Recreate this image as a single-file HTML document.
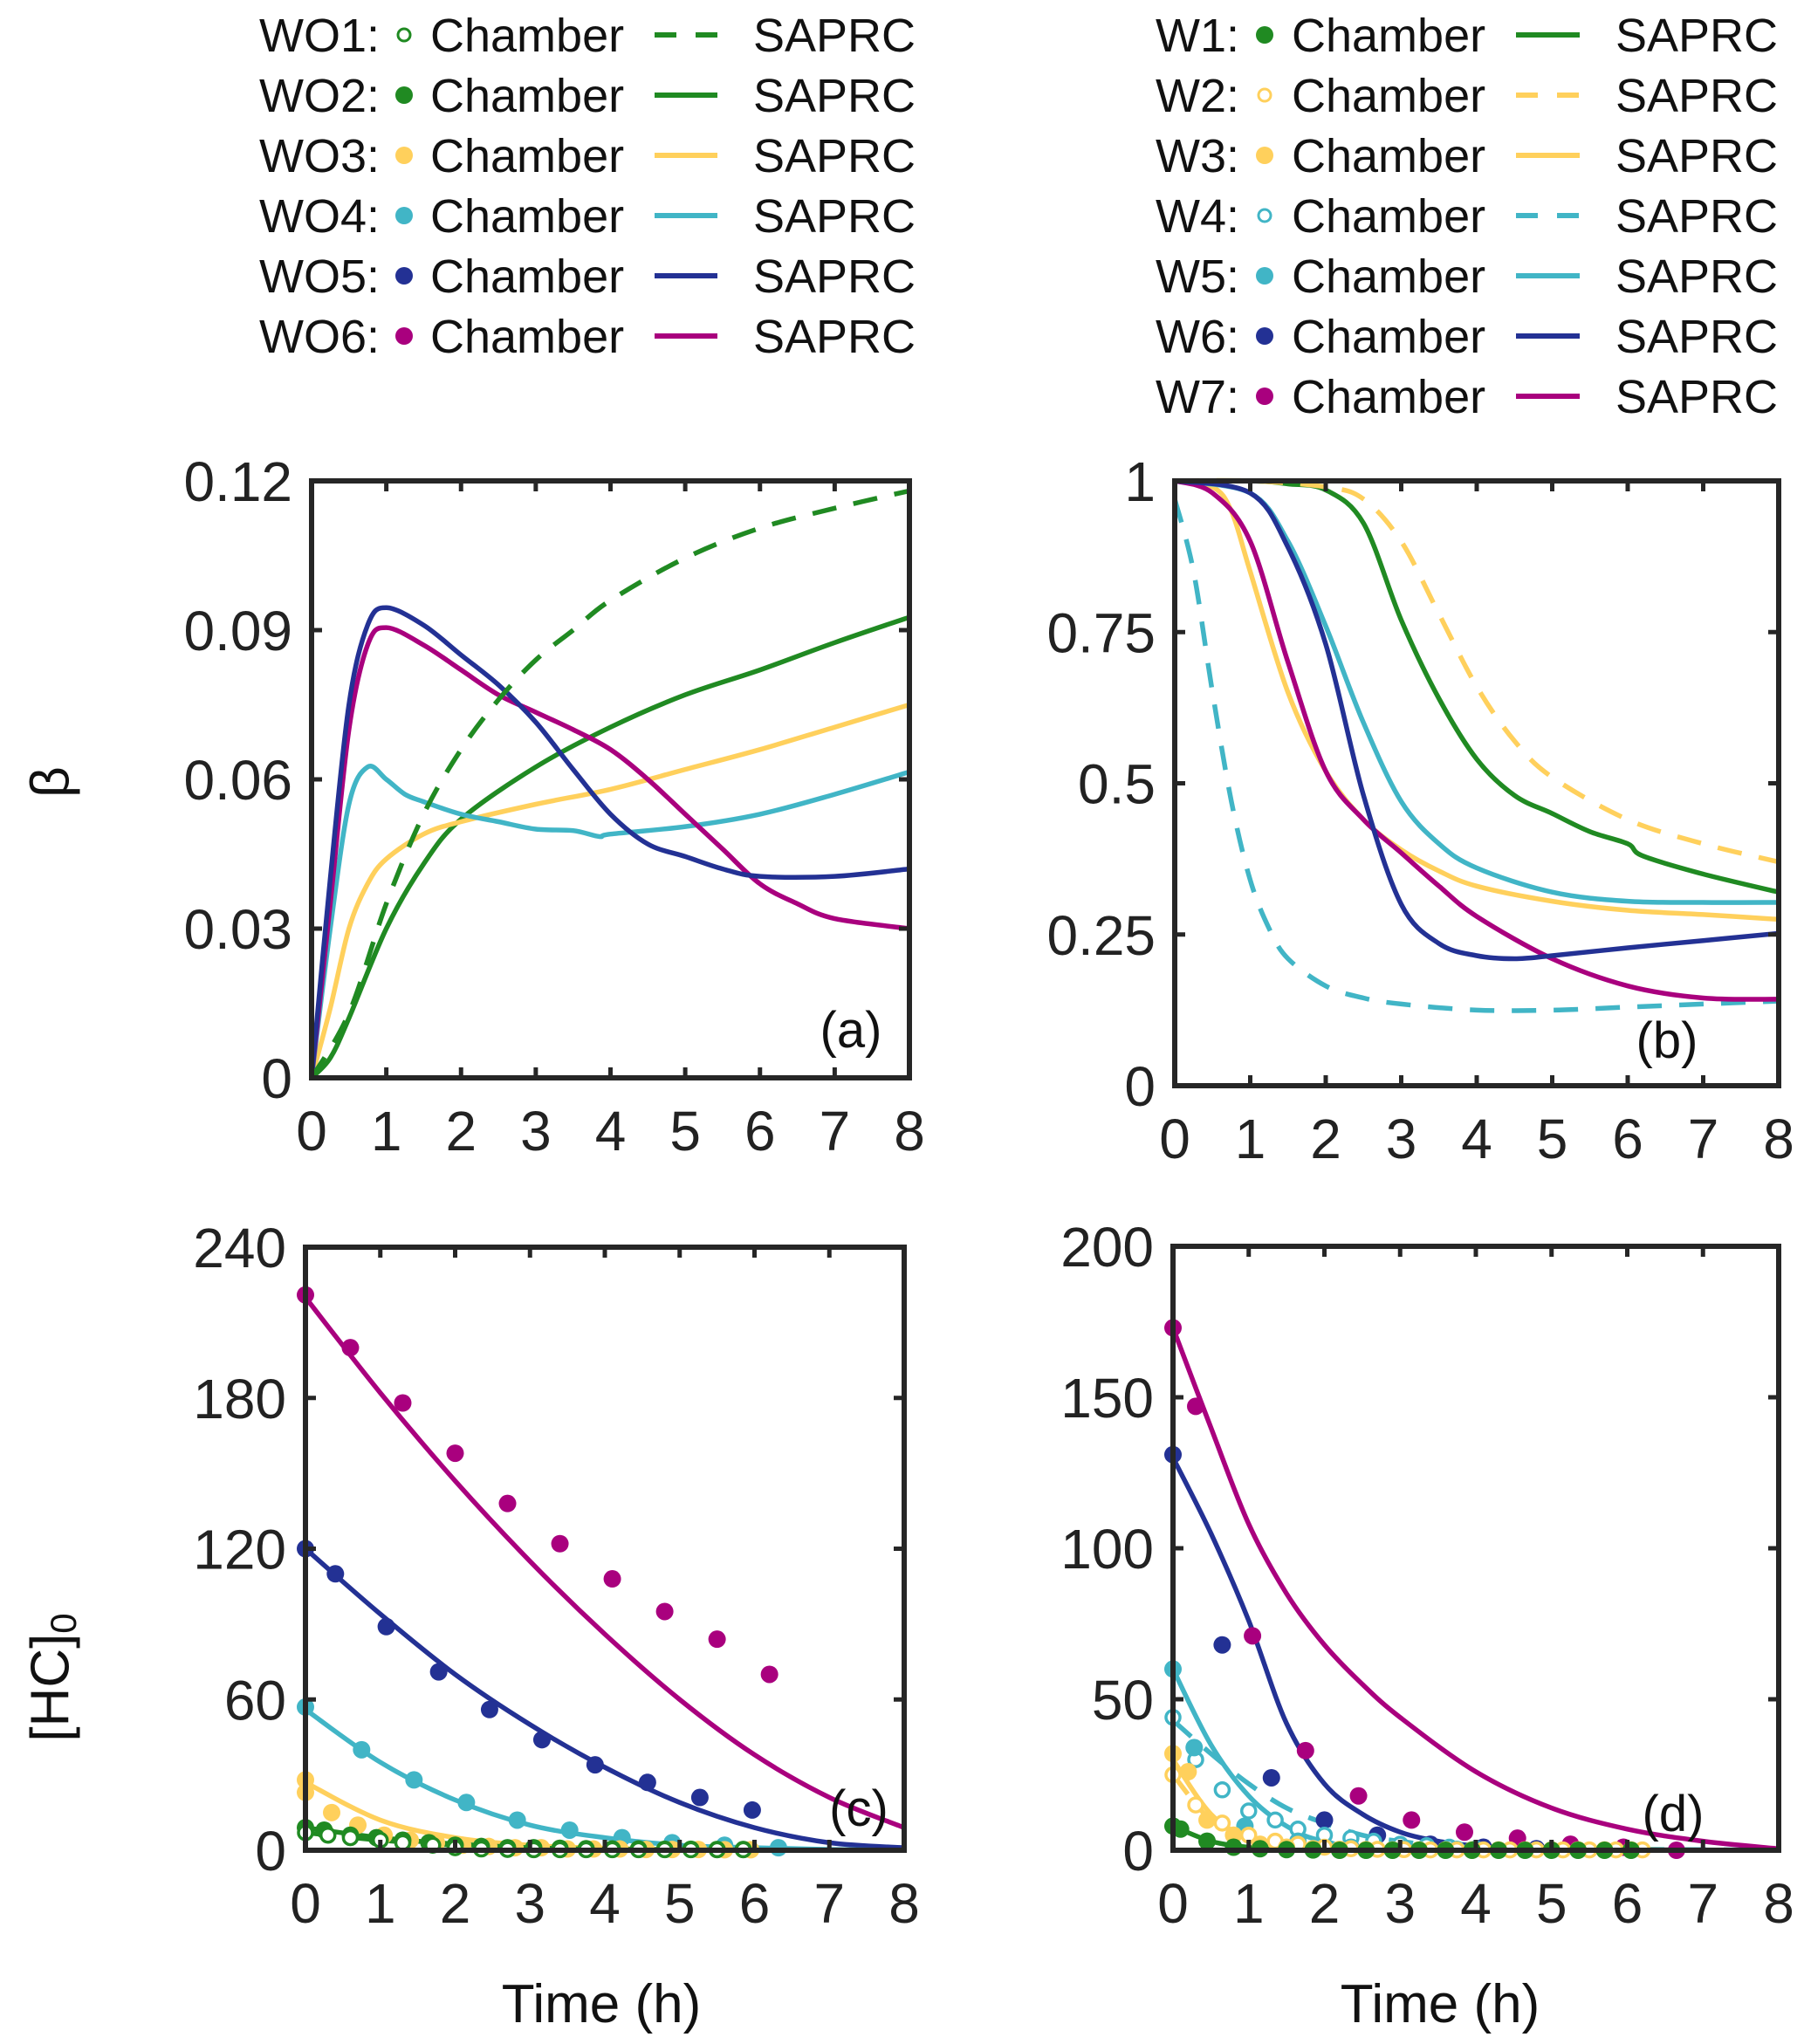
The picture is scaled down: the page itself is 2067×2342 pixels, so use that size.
<!DOCTYPE html>
<html><head><meta charset="utf-8">
<style>
html,body{margin:0;padding:0;background:#fff;}
svg{display:block;font-family:"Liberation Sans",Arial,sans-serif;}
</style></head>
<body>
<svg id="fig" width="2067" height="2342" viewBox="0 0 2067 2342" xmlns="http://www.w3.org/2000/svg">
<g id="legendL"></g>
<g id="legendR"></g>
<g id="plots"></g>
<text x="62" y="896" font-size="62" text-anchor="middle" dominant-baseline="middle" transform="rotate(-90 62 896)" fill="#111">β</text>
<text x="62" y="1922" font-size="62" text-anchor="middle" dominant-baseline="middle" transform="rotate(-90 62 1922)" fill="#111">[HC]<tspan font-size="42" dy="14">0</tspan></text>
<text x="689" y="2317" font-size="62" text-anchor="middle" fill="#111">Time (h)</text>
<text x="1650" y="2317" font-size="62" text-anchor="middle" fill="#111">Time (h)</text>
</svg>
<script>
const GREEN='#208a22', YEL='#ffd05c', CYAN='#41b5c6', NAVY='#233194', MAG='#a9007e';
const xTicks=[0,1,2,3,4,5,6,7,8];
const xTickLabels=['0','1','2','3','4','5','6','7','8'];
// Panel a
const aYTicks=[0,0.03,0.06,0.09,0.12];
const aYLabels=['0','0.03','0.06','0.09','0.12'];
const aT_WO1=[0,0.5,1,1.5,2,2.5,3,3.5,4,5,6,7,8];
const aV_WO1=[0,0.013,0.035,0.053,0.066,0.076,0.084,0.090,0.096,0.1045,0.1105,0.1145,0.118];
const aT_WO2=[0,0.25,0.5,1,1.5,2,3,4,5,6,7,8];
const aV_WO2=[0,0.004,0.012,0.030,0.043,0.052,0.0625,0.0705,0.077,0.082,0.0875,0.0926];
const aT_WO3=[0,0.25,0.5,0.75,1,1.5,2,3,4,5,6,7,8];
const aV_WO3=[0,0.014,0.030,0.039,0.044,0.049,0.0515,0.055,0.058,0.062,0.066,0.0705,0.075];
const aT_WO4=[0,0.25,0.5,0.75,1,1.25,1.5,2,2.5,3,3.5,3.85,4,5,6,7,8];
const aV_WO4=[0,0.03,0.055,0.0625,0.060,0.057,0.0555,0.053,0.0515,0.050,0.0497,0.0485,0.049,0.0505,0.053,0.057,0.0615];
const aT_WO5=[0,0.25,0.5,0.75,1,1.5,2,2.5,3,3.5,4,4.5,5,5.5,6,7,8];
const aV_WO5=[0,0.04,0.075,0.091,0.0945,0.091,0.085,0.079,0.0715,0.062,0.053,0.047,0.0445,0.042,0.0405,0.0405,0.042];
const aT_WO6=[0,0.25,0.5,0.75,1,1.5,2,2.5,3,3.5,4,4.5,5,5.5,6,6.5,7,8];
const aV_WO6=[0,0.035,0.07,0.087,0.0905,0.087,0.082,0.077,0.0735,0.070,0.066,0.060,0.053,0.046,0.039,0.035,0.032,0.030];
// Panel b
const bYTicks=[0,0.25,0.5,0.75,1];
const bYLabels=['0','0.25','0.5','0.75','1'];
const bT_W1=[0,1,1.5,2,2.5,3,3.5,4,4.5,5,5.5,6,6.2,7,8];
const bV_W1=[1,1,0.995,0.985,0.93,0.77,0.64,0.54,0.48,0.45,0.42,0.40,0.38,0.35,0.32];
const bT_W2=[0,1,2,2.5,3,3.5,4,4.5,5,6,7,8];
const bV_W2=[1,1,0.99,0.97,0.9,0.78,0.66,0.57,0.51,0.44,0.40,0.37];
const bT_W3=[0,0.5,0.75,1,1.5,2,2.5,3,3.5,4,5,6,7,8];
const bV_W3=[1,0.99,0.95,0.85,0.65,0.52,0.44,0.39,0.355,0.33,0.305,0.29,0.283,0.275];
const bT_W4=[0,0.25,0.5,0.75,1,1.25,1.5,2,2.5,3,4,5,6,7,8];
const bV_W4=[0.97,0.85,0.65,0.47,0.34,0.26,0.21,0.165,0.145,0.135,0.125,0.125,0.13,0.135,0.14];
const bT_W5=[0,1,1.5,2,2.5,3,3.5,4,5,6,7,8];
const bV_W5=[1,0.98,0.9,0.76,0.6,0.47,0.4,0.36,0.32,0.305,0.303,0.303];
const bT_W6=[0,1,1.5,2,2.5,3,3.5,4,4.5,5,6,7,8];
const bV_W6=[1,0.98,0.89,0.73,0.48,0.3,0.235,0.215,0.21,0.215,0.228,0.24,0.252];
const bT_W7=[0,0.5,1,1.5,2,2.5,3,3.5,4,5,6,7,8];
const bV_W7=[1,0.98,0.9,0.7,0.52,0.44,0.385,0.33,0.28,0.21,0.165,0.145,0.143];
// Panel c
const cYTicks=[0,60,120,180,240];
const cYLabels=['0','60','120','180','240'];
const cLineT=[0,1,2,3,4,5,6,7,8];
const cLine_WO6=[220,182,147,115,86,60,38,21,9];
const cLine_WO5=[120,94,70,50,33,19,9,3,1];
const cLine_WO4=[56,35,20,10,5,2,1,0.3,0];
const cLine_WO3=[27,12,5,2,0.8,0.3,0.1,0,0];
const cLine_WO2=[9,5,2.5,1,0.4,0.2,0.1,0,0];
const cLine_WO1=[7,4,2,0.8,0.3,0.1,0,0,0];
const cPtT_WO6=[0,0.6,1.3,2,2.7,3.4,4.1,4.8,5.5,6.2];
const cPtV_WO6=[221,200,178,158,138,122,108,95,84,70];
const cPtT_WO5=[0,0.4,1.08,1.78,2.46,3.16,3.87,4.57,5.27,5.97];
const cPtV_WO5=[120,110,89,71,56,44,34,27,21,16];
const cPtT_WO4=[0,0.75,1.45,2.15,2.83,3.53,4.23,4.9,5.6,6.32];
const cPtV_WO4=[57,40,28,19,12,8,5,3,2,1];
const cPtT_WO3=[0,0,0.35,0.7,1.05,1.4,1.75,2.1,2.45,2.8,3.15,3.5,3.85,4.2,4.55,4.9,5.25,5.6,5.95];
const cPtV_WO3=[28,23,15,10,6,4,3,2,1.5,1,1,0.5,0.5,0.5,0.3,0.3,0.3,0.2,0.2];
const cPtT_WO2=[0,0.25,0.6,0.95,1.3,1.65,2.0,2.35,2.7,3.05,3.4,3.75,4.1,4.45,4.8,5.15,5.5,5.85];
const cPtV_WO2=[9,8,6,5,4,3,2,1.5,1,1,0.8,0.6,0.5,0.5,0.4,0.4,0.3,0.3];
const cPtT_WO1=[0,0.3,0.6,1,1.3,1.7,2.0,2.35,2.7,3.05,3.4,3.75,4.1,4.45,4.8,5.15,5.5,5.85];
const cPtV_WO1=[7,6,5,4,3,2,1,0.5,0.3,0.2,0.2,0.2,0.2,0.2,0.2,0.2,0.2,0.2];
// Panel d
const dYTicks=[0,50,100,150,200];
const dYLabels=['0','50','100','150','200'];
const dT_W7=[0,0.5,1,1.5,2,2.5,3,4,5,6,7,8];
const dV_W7=[173,140,108,85,68,55,44,26,14,7,3,0.5];
const dT_W6=[0,0.5,1,1.5,2,2.5,3,3.5,4,5,8];
const dV_W6=[130,105,76,42,22,12,6,3,1.5,0.4,0];
const dT_W5=[0,0.5,1,1.5,2,3,8];
const dV_W5=[60,35,18,8,3,0.5,0];
const dT_W4=[0,0.5,1,1.5,2,2.5,3,4,8];
const dV_W4=[43,32,22,14,9,5,3,1,0];
const dT_W3=[0,0.5,1,1.5,2,8];
const dV_W3=[30,12,4,1.5,0.5,0];
const dT_W2=[0,0.5,1,1.5,2,8];
const dV_W2=[25,10,4,1.5,0.5,0];
const dT_W1=[0,0.5,1,1.5,8];
const dV_W1=[8,3,1,0.3,0];
const dPtT_W7=[0,0.3,1.05,1.75,2.45,3.15,3.85,4.55,5.25,5.95,6.65];
const dPtV_W7=[173,147,71,33,18,10,6,4,2,1,0];
const dPtT_W6=[0,0.65,1.3,2,2.7,3.4,4.1,4.8];
const dPtV_W6=[131,68,24,10,5,2,1,0.5];
const dPtT_W5=[0,0.28,0.95,1.65,2.35,3.05,3.75];
const dPtV_W5=[60,34,8,3,1,0.5,0.3];
const dPtT_W4=[0,0.3,0.65,1,1.35,1.65,2,2.35,2.65,3,3.35,3.65,4];
const dPtV_W4=[44,30,20,13,10,7,5,4,3,2,1.5,1,0.5];
const dPtT_W3=[0,0.2,0.45,0.8,1.15,1.5,1.85,2.2,2.55,2.9,3.25,3.6,3.95,4.3,4.65,5,5.35,5.7,6.05];
const dPtV_W3=[32,26,10,5,2,1,0.5,0.3,0.2,0.1,0.1,0.1,0.1,0.1,0.1,0.1,0.1,0.1,0.1];
const dPtT_W2=[0,0.3,0.65,1,1.35,1.65,2,2.35,2.7,3.05,3.4,3.75,4.1,4.45,4.8,5.15,5.5,5.85,6.2];
const dPtV_W2=[25,15,9,5,3,2,1,0.5,0.3,0.2,0.1,0.1,0.1,0.1,0.1,0.1,0.1,0.1,0.1];
const dPtT_W1=[0,0.1,0.45,0.8,1.15,1.5,1.85,2.2,2.55,2.9,3.25,3.6,3.95,4.3,4.65,5,5.35,5.7,6.05];
const dPtV_W1=[8,7,3,1,0.5,0.2,0.1,0,0,0,0,0,0,0,0,0,0,0,0];

const NS='http://www.w3.org/2000/svg';
function mk(tag,attrs,parent){const e=document.createElementNS(NS,tag);for(const k in attrs)e.setAttribute(k,attrs[k]);if(parent)parent.appendChild(e);return e;}
function smoothPath(pts){
  let d='M'+pts[0][0].toFixed(1)+','+pts[0][1].toFixed(1);
  for(let i=0;i<pts.length-1;i++){
    const p0=pts[Math.max(0,i-1)],p1=pts[i],p2=pts[i+1],p3=pts[Math.min(pts.length-1,i+2)];
    const c1=[p1[0]+(p2[0]-p0[0])/6,p1[1]+(p2[1]-p0[1])/6];
    const c2=[p2[0]-(p3[0]-p1[0])/6,p2[1]-(p3[1]-p1[1])/6];
    d+=' C'+c1[0].toFixed(1)+','+c1[1].toFixed(1)+' '+c2[0].toFixed(1)+','+c2[1].toFixed(1)+' '+p2[0].toFixed(1)+','+p2[1].toFixed(1);
  }
  return d;
}
function panel(cfg){
  const g=mk('g',{},document.getElementById('plots'));
  
  
  const {L,R,T,B,ymax}=cfg;
  const xs=t=>L+(t/8)*(R-L);
  const ys=v=>B-(v/ymax)*(B-T);
  const clip='clip-'+cfg.name;
  const cp=mk('clipPath',{id:clip},g);mk('rect',{x:L,y:T-4,width:R-L,height:B-T+8},cp);
  const data=mk('g',{},g);
  
  
  (cfg.lines||[]).forEach(s=>{
    const pts=s.t.map((t,i)=>[xs(t),ys(s.v[i])]);
    const p=mk('path',{d:smoothPath(pts),fill:'none',stroke:s.c,'stroke-width':5.5,'stroke-linejoin':'round','clip-path':'url(#'+clip+')'},data);
    if(s.dash)p.setAttribute('stroke-dasharray','28 20');
    
    
  });
  (cfg.points||[]).forEach(s=>{
    s.t.forEach((t,i)=>{
      const c=mk('circle',{cx:xs(t),cy:ys(s.v[i]),r:s.open?8:10,fill:s.open?'#fff':s.c,stroke:s.c,'stroke-width':s.open?3.5:0},data);
      
      
    });
  });
  const box=mk('rect',{x:L,y:T,width:R-L,height:B-T,fill:'none',stroke:'#262626','stroke-width':6},g);
  
  
  xTicks.forEach((t,i)=>{
    const x=xs(t);
    mk('line',{x1:x,y1:B,x2:x,y2:B-12,stroke:'#262626','stroke-width':5},g);
    mk('line',{x1:x,y1:T,x2:x,y2:T+12,stroke:'#262626','stroke-width':5},g);
    const tx=mk('text',{x:x,y:B+83,'font-size':64,'text-anchor':'middle',fill:'#222'},g);
    tx.textContent=xTickLabels[i];
    
    
  });
  cfg.yTicks.forEach((v,i)=>{
    const y=ys(v);
    mk('line',{x1:L,y1:y,x2:L+12,y2:y,stroke:'#262626','stroke-width':5},g);
    mk('line',{x1:R,y1:y,x2:R-12,y2:y,stroke:'#262626','stroke-width':5},g);
    const tx=mk('text',{x:L-22,y:y+23,'font-size':64,'text-anchor':'end',fill:'#222'},g);
    tx.textContent=cfg.yLabels[i];
    
    
  });
  const lb=mk('text',{x:cfg.lx,y:cfg.ly,'font-size':58,'text-anchor':'middle',fill:'#111'},g);
  lb.textContent=cfg.label;
  
  
}
panel({name:'panel-a',L:357,R:1042,T:551,B:1235,ymax:0.12,yTicks:aYTicks,yLabels:aYLabels,label:'(a)',lx:975,ly:1200,
 lines:[{n:'wo2',t:aT_WO2,v:aV_WO2,c:GREEN},{n:'wo3',t:aT_WO3,v:aV_WO3,c:YEL},{n:'wo4',t:aT_WO4,v:aV_WO4,c:CYAN},
 {n:'wo6',t:aT_WO6,v:aV_WO6,c:MAG},{n:'wo5',t:aT_WO5,v:aV_WO5,c:NAVY},{n:'wo1',t:aT_WO1,v:aV_WO1,c:GREEN,dash:true}]});
panel({name:'panel-b',L:1346,R:2038,T:551,B:1244,ymax:1,yTicks:bYTicks,yLabels:bYLabels,label:'(b)',lx:1910,ly:1212,
 lines:[{n:'w1',t:bT_W1,v:bV_W1,c:GREEN},{n:'w2',t:bT_W2,v:bV_W2,c:YEL,dash:true},{n:'w3',t:bT_W3,v:bV_W3,c:YEL},
 {n:'w4',t:bT_W4,v:bV_W4,c:CYAN,dash:true},{n:'w5',t:bT_W5,v:bV_W5,c:CYAN},{n:'w7',t:bT_W7,v:bV_W7,c:MAG},{n:'w6',t:bT_W6,v:bV_W6,c:NAVY}]});
panel({name:'panel-c',L:350,R:1036,T:1429,B:2120,ymax:240,yTicks:cYTicks,yLabels:cYLabels,label:'(c)',lx:984,ly:2092,
 lines:[{n:'wo6',t:cLineT,v:cLine_WO6,c:MAG},{n:'wo5',t:cLineT,v:cLine_WO5,c:NAVY},{n:'wo4',t:cLineT,v:cLine_WO4,c:CYAN},
 {n:'wo3',t:cLineT,v:cLine_WO3,c:YEL},{n:'wo2',t:cLineT,v:cLine_WO2,c:GREEN},{n:'wo1',t:cLineT,v:cLine_WO1,c:GREEN,dash:true}],
 points:[{n:'wo6',t:cPtT_WO6,v:cPtV_WO6,c:MAG},{n:'wo5',t:cPtT_WO5,v:cPtV_WO5,c:NAVY},{n:'wo4',t:cPtT_WO4,v:cPtV_WO4,c:CYAN},
 {n:'wo3',t:cPtT_WO3,v:cPtV_WO3,c:YEL},{n:'wo2',t:cPtT_WO2,v:cPtV_WO2,c:GREEN},{n:'wo1',t:cPtT_WO1,v:cPtV_WO1,c:GREEN,open:true}]});
panel({name:'panel-d',L:1344,R:2038,T:1428,B:2120,ymax:200,yTicks:dYTicks,yLabels:dYLabels,label:'(d)',lx:1917,ly:2098,
 lines:[{n:'w7',t:dT_W7,v:dV_W7,c:MAG},{n:'w6',t:dT_W6,v:dV_W6,c:NAVY},{n:'w5',t:dT_W5,v:dV_W5,c:CYAN},{n:'w4',t:dT_W4,v:dV_W4,c:CYAN,dash:true},
 {n:'w3',t:dT_W3,v:dV_W3,c:YEL},{n:'w2',t:dT_W2,v:dV_W2,c:YEL,dash:true},{n:'w1',t:dT_W1,v:dV_W1,c:GREEN}],
 points:[{n:'w7',t:dPtT_W7,v:dPtV_W7,c:MAG},{n:'w6',t:dPtT_W6,v:dPtV_W6,c:NAVY},{n:'w4',t:dPtT_W4,v:dPtV_W4,c:CYAN,open:true},{n:'w5',t:dPtT_W5,v:dPtV_W5,c:CYAN},
 {n:'w2',t:dPtT_W2,v:dPtV_W2,c:YEL,open:true},{n:'w3',t:dPtT_W3,v:dPtV_W3,c:YEL},{n:'w1',t:dPtT_W1,v:dPtV_W1,c:GREEN}]});

const legLNames=['WO1:','WO2:','WO3:','WO4:','WO5:','WO6:'];
const legLColors=[GREEN,GREEN,YEL,CYAN,NAVY,MAG];
const legLOpen=[true,false,false,false,false,false];
const legLDash=[true,false,false,false,false,false];
const legRNames=['W1:','W2:','W3:','W4:','W5:','W6:','W7:'];
const legRColors=[GREEN,YEL,YEL,CYAN,CYAN,NAVY,MAG];
const legROpen=[false,true,false,true,false,false,false];
const legRDash=[false,true,false,true,false,false,false];
function legend(id,names,colors,open,dash,xName,xMark,xCh,xL1,xL2,xS){
  const g=document.getElementById(id);
  names.forEach((nm,i)=>{
    const y=40+i*69;
    const e=mk('g',{},g);
    
    
    const t1=mk('text',{x:xName,y:y+19,'font-size':54,'text-anchor':'end',fill:'#111'},e);t1.textContent=nm;
    mk('circle',{cx:xMark,cy:y,r:open[i]?7:10,fill:open[i]?'#fff':colors[i],stroke:colors[i],'stroke-width':open[i]?3:0},e);
    const t2=mk('text',{x:xCh,y:y+19,'font-size':54,fill:'#111'},e);t2.textContent='Chamber';
    const ln=mk('line',{x1:xL1,y1:y,x2:xL2,y2:y,stroke:colors[i],'stroke-width':6},e);
    if(dash[i])ln.setAttribute('stroke-dasharray','25 22');
    const t3=mk('text',{x:xS,y:y+19,'font-size':54,fill:'#111'},e);t3.textContent='SAPRC';
  });
}
legend('legendL',legLNames,legLColors,legLOpen,legLDash,435,463,493,750,822,863);
legend('legendR',legRNames,legRColors,legROpen,legRDash,1420,1449,1480,1737,1810,1851);
</script>
</body></html>
